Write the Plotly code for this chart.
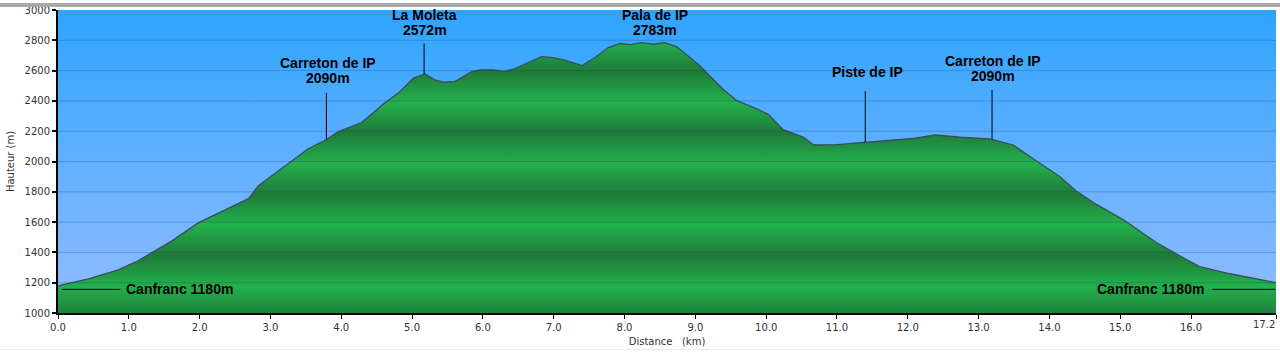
import numpy as np
import plotly.graph_objects as go

# ---- data ----
dist_km = [0.0, 0.03, 0.43, 0.85, 1.13, 1.46, 1.61, 1.98, 2.41, 2.69, 2.83, 3.25, 3.53, 3.79, 3.96,
           4.29, 4.43, 4.59, 4.81, 5.02, 5.18, 5.32, 5.44, 5.61, 5.84, 5.96, 6.15, 6.29, 6.43, 6.62,
           6.83, 6.99, 7.18, 7.40, 7.58, 7.77, 7.94, 8.08, 8.24, 8.41, 8.57, 8.74, 8.88, 9.07, 9.21,
           9.40, 9.58, 9.75, 9.86, 10.03, 10.24, 10.53, 10.67, 11.00, 11.40, 11.75, 12.08, 12.39,
           12.74, 13.16, 13.49, 13.77, 14.15, 14.39, 14.67, 15.04, 15.51, 15.84, 16.12, 16.55, 17.2]
elev_m = [1175, 1182, 1226, 1285, 1345, 1432, 1476, 1595, 1693, 1755, 1840, 1986, 2083, 2145, 2197,
          2257, 2316, 2377, 2453, 2550, 2578, 2539, 2524, 2529, 2594, 2605, 2605, 2594, 2609, 2648,
          2692, 2685, 2666, 2633, 2685, 2752, 2779, 2772, 2785, 2774, 2785, 2757, 2702, 2631, 2561,
          2474, 2403, 2373, 2349, 2311, 2210, 2160, 2109, 2112, 2127, 2138, 2153, 2175,
          2160, 2149, 2109, 2018, 1899, 1801, 1715, 1617, 1465, 1378, 1306, 1259, 1200]

# summit labels: name, height text, x of label, elevation of text bottom, leader line top (None = no line)
label_names = ["Carreton de IP", "La Moleta", "Pala de IP", "Piste de IP", "Carreton de IP"]
label_heights = ["2090m", "2572m", "2783m", "", "2090m"]
label_x = [3.81, 5.18, 8.43, 11.43, 13.20]
label_text_y = [2495, 2808, 2808, 2530, 2508]
leader_x = [3.79, 5.17, None, 11.40, 13.19]
leader_top = [2453, 2779, None, 2466, 2472]

# start / end labels
end_label = "Canfranc 1180m"
end_label_y = 1156
left_line_x = [0.06, 0.88]
right_line_x = [16.30, 17.19]
left_text_x = 0.95
right_text_x = 16.20

x_ticks = [0, 1, 2, 3, 4, 5, 6, 7, 8, 9, 10, 11, 12, 13, 14, 15, 16, 17.2]
x_tick_text = ["0.0", "1.0", "2.0", "3.0", "4.0", "5.0", "6.0", "7.0", "8.0", "9.0", "10.0",
               "11.0", "12.0", "13.0", "14.0", "15.0", "16.0", "17.2"]
y_ticks = [1000, 1200, 1400, 1600, 1800, 2000, 2200, 2400, 2600, 2800, 3000]
X_RANGE = [0, 17.2]
Y_RANGE = [1000, 3000]

# ---- styles ----
SKY_BOTTOM = "rgb(150,189,255)"
SKY_TOP = "rgb(46,164,255)"
GREEN_DARK = "rgb(30,122,57)"
GREEN_BRIGHT = "rgb(35,177,76)"

fig = go.Figure()

# sky background with vertical gradient
fig.add_trace(go.Scatter(
    x=[X_RANGE[0], X_RANGE[1], X_RANGE[1], X_RANGE[0], X_RANGE[0]],
    y=[Y_RANGE[0], Y_RANGE[0], Y_RANGE[1], Y_RANGE[1], Y_RANGE[0]],
    mode="none", fill="toself",
    fillgradient=dict(type="vertical", start=Y_RANGE[0], stop=Y_RANGE[1],
                      colorscale=[[0, SKY_BOTTOM], [1, SKY_TOP]]),
    hoverinfo="skip", showlegend=False))

# banded green gradient for terrain
span = Y_RANGE[1] - Y_RANGE[0]
green_scale = []
for i, v in enumerate(y_ticks):
    green_scale.append([(v - Y_RANGE[0]) / span, GREEN_DARK if i % 2 == 0 else GREEN_BRIGHT])

fig.add_trace(go.Scatter(
    x=dist_km, y=elev_m, mode="lines", fill="tozeroy",
    line=dict(color="#3c4c5a", width=1.3),
    fillgradient=dict(type="vertical", start=Y_RANGE[0], stop=Y_RANGE[1], colorscale=green_scale),
    hoverinfo="skip", showlegend=False))

annotations = []
LABEL_FONT = dict(family="Liberation Sans, Arial, sans-serif", size=14, color="black")
AXIS_FONT = dict(family="DejaVu Sans, Verdana, sans-serif", size=10, color="#333333")

# leader lines + labels
for name, h, lx, ty, llx, ltop in zip(label_names, label_heights, label_x, label_text_y, leader_x, leader_top):
    if llx is not None:
        ybot = float(np.interp(llx, dist_km, elev_m))
        fig.add_trace(go.Scatter(x=[llx, llx], y=[ybot, ltop], mode="lines",
                                 line=dict(color="black", width=1),
                                 hoverinfo="skip", showlegend=False))
    if h:
        annotations.append(dict(x=lx, y=ty, text="<b>%s</b>" % h, showarrow=False,
                                xanchor="center", yanchor="bottom", font=LABEL_FONT,
                                borderpad=0))
        annotations.append(dict(x=lx, y=ty, text="<b>%s</b>" % name, showarrow=False,
                                xanchor="center", yanchor="bottom", yshift=15, font=LABEL_FONT,
                                borderpad=0))
    else:
        annotations.append(dict(x=lx, y=ty, text="<b>%s</b>" % name, showarrow=False,
                                xanchor="center", yanchor="bottom", font=LABEL_FONT,
                                borderpad=0))

# Canfranc lines and labels
for lx in (left_line_x, right_line_x):
    fig.add_trace(go.Scatter(x=lx, y=[end_label_y, end_label_y], mode="lines",
                             line=dict(color="black", width=1),
                             hoverinfo="skip", showlegend=False))
annotations.append(dict(x=left_text_x, y=end_label_y, text="<b>%s</b>" % end_label, showarrow=False,
                        xanchor="left", yanchor="middle", font=LABEL_FONT, borderpad=0))
annotations.append(dict(x=right_text_x, y=end_label_y, text="<b>%s</b>" % end_label, showarrow=False,
                        xanchor="right", yanchor="middle", font=LABEL_FONT, borderpad=0))

# last tick label drawn right-aligned to the end of the axis (as in the original)
annotations.append(dict(x=x_ticks[-1], xref="x", y=0, yref="paper", text=x_tick_text[-1],
                        showarrow=False, xanchor="right", yanchor="top", yshift=-5,
                        font=AXIS_FONT, borderpad=0))
shown_tick_text = x_tick_text[:-1] + [""]

# grid lines drawn above the fills
shapes = []
for v in y_ticks[1:-1]:
    shapes.append(dict(type="line", xref="paper", x0=0, x1=1, yref="y", y0=v, y1=v,
                       line=dict(color="rgba(25,60,120,0.28)", width=1), layer="above"))
# top grey bar and faint bottom line of the page
shapes.append(dict(type="rect", xref="paper", x0=-1, x1=2, yref="paper",
                   y0=1 + 3 / 307, y1=1 + 7 / 307, fillcolor="#a9a9a9", line_width=0, layer="above"))
shapes.append(dict(type="line", xref="paper", x0=-1, x1=2, yref="paper",
                   y0=-37 / 307, y1=-37 / 307, line=dict(color="#ececec", width=1), layer="above"))

fig.update_layout(
    width=1280, height=352,
    margin=dict(l=58, r=4, t=6, b=39),
    paper_bgcolor="white", plot_bgcolor="white",
    showlegend=False,
    annotations=annotations,
    shapes=shapes,
    xaxis=dict(range=X_RANGE, tickvals=x_ticks, ticktext=shown_tick_text,
               showgrid=False, zeroline=False,
               showline=True, linecolor="black", linewidth=2,
               ticks="outside", ticklen=4, tickwidth=1, tickcolor="black",
               tickfont=AXIS_FONT, layer="above traces",
               title=dict(text="Distance\u00a0\u00a0\u00a0(km)", font=AXIS_FONT, standoff=6)),
    yaxis=dict(range=Y_RANGE, tickvals=y_ticks,
               showgrid=False, zeroline=False,
               showline=True, linecolor="black", linewidth=2,
               ticks="outside", ticklen=4, tickwidth=2, tickcolor="black",
               tickfont=AXIS_FONT, layer="above traces",
               title=dict(text="Hauteur (m)", font=AXIS_FONT, standoff=8)),
)

fig.write_html("out.html")
